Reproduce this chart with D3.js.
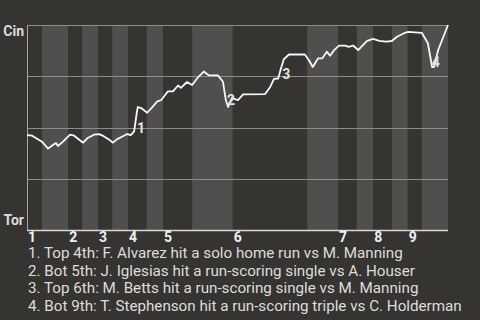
<!DOCTYPE html>
<html lang="en">
<head>
    <meta charset="UTF-8">
    <title>Win Probability</title>
    <style>
    body { margin: 0; background-color: #363431; }
    svg { display: block; }
    text { font-family: Roboto, "Noto Sans", sans-serif; }
    </style>
    <script src="https://cdn.jsdelivr.net/npm/d3@7"></script>
</head>
<body>
    <svg width="480" height="320"></svg>
    <script>

        // half-inning boundaries, in plays (top 1st ... bottom 9th, then end)
        var halfInnings = [0, 3.2, 8.8, 11.8, 15.2, 18.2, 21.6, 25.6, 29.1, 35.3, 44.0, 59.9, 66.5, 70.5, 74.0, 78.0, 81.4, 84.4, 90];
        var innings = ["1", "2", "3", "4", "5", "6", "7", "8", "9"];

        // play index and Cincinnati win probability
        var plays = [0, 1.1, 3.2, 4.5, 5.6, 6.2, 6.6, 7.7, 9.2, 10.1, 10.7, 12.0, 13.0, 14.3, 15.4, 16.3, 17.5, 18.4, 19.2, 20.3,
            21.4, 22.2, 22.9, 23.1, 23.5, 23.7, 24.4, 25.7, 26.7, 27.8, 28.7, 30.1, 31.2, 32.3, 32.9, 34.2, 35.3, 36.6, 37.8, 38.9,
            40.8, 41.9, 42.5, 43.0, 43.8, 45.1, 46.2, 50.9, 52.0, 52.8, 53.7, 54.3, 54.9, 56.0, 59.4, 60.3, 61.1, 62.2, 63.1, 64.1,
            64.8, 65.6, 66.7, 68.0, 68.8, 69.7, 70.8, 72.7, 74.0, 75.3, 76.8, 78.0, 79.1, 80.6, 81.5, 84.4, 85.7, 86.6, 87.0, 87.9, 90];
        var winProb = [0.463, 0.46, 0.431, 0.397, 0.416, 0.424, 0.41, 0.431, 0.465, 0.46, 0.449, 0.426, 0.449, 0.465, 0.468, 0.459, 0.442, 0.426, 0.442, 0.455,
            0.468, 0.463, 0.481, 0.512, 0.577, 0.6, 0.595, 0.572, 0.597, 0.626, 0.634, 0.676, 0.676, 0.705, 0.693, 0.722, 0.707, 0.746, 0.773, 0.754,
            0.754, 0.723, 0.634, 0.6, 0.644, 0.634, 0.662, 0.663, 0.698, 0.737, 0.739, 0.789, 0.833, 0.856, 0.856, 0.827, 0.795, 0.837, 0.837, 0.87,
            0.85, 0.876, 0.899, 0.899, 0.893, 0.9, 0.878, 0.923, 0.932, 0.923, 0.919, 0.922, 0.943, 0.96, 0.966, 0.962, 0.911, 0.795, 0.795, 0.878, 1];

        // key plays: marker position and description
        var eventPlay = [24.4, 43.6, 55.4, 87.4];
        var eventProb = [0.5, 0.634, 0.759, 0.82];
        var eventText = [
            "Top 4th: F. Alvarez hit a solo home run vs M. Manning",
            "Bot 5th: J. Iglesias hit a run-scoring single vs A. Houser",
            "Top 6th: M. Betts hit a run-scoring single vs M. Manning",
            "Bot 9th: T. Stephenson hit a run-scoring triple vs C. Holderman"
        ];
        var teams = ["Cin", "Tor"];

        var svg = d3.select("svg"),
            margin = {top: 25, right: 32, bottom: 90, left: 27},
            width = 480 - margin.left - margin.right,
            height = 320 - margin.top - margin.bottom;

        var g = svg.append("g").attr("transform", "translate(" + margin.left + "," + margin.top + ")");

        var x = d3.scaleLinear().domain([0, 90]).range([0, width]);
        var y = d3.scaleLinear().domain([0, 1]).range([height, 0]);

        // inning bands
        g.selectAll("rect.band")
            .data(halfInnings.slice(0, -1))
            .enter().append("rect")
            .attr("class", "band")
            .attr("x", function(d) { return x(d); })
            .attr("width", function(d, i) { return x(halfInnings[i + 1]) - x(d); })
            .attr("y", 0)
            .attr("height", height)
            .attr("fill", function(d, i) { return i % 2 ? "#504f4d" : "#363431"; });

        // grid
        g.selectAll("line.grid")
            .data([0.25, 0.5, 0.75, 1])
            .enter().append("line")
            .attr("class", "grid")
            .attr("x1", 0).attr("x2", width)
            .attr("y1", function(d) { return Math.round(y(d)) + 0.5; })
            .attr("y2", function(d) { return Math.round(y(d)) + 0.5; })
            .attr("stroke", "#8e8c89")
            .attr("stroke-width", 1);

        g.append("line")
            .attr("x1", 0.5).attr("x2", 0.5)
            .attr("y1", 0).attr("y2", height)
            .attr("stroke", "#a5a4a2");

        g.append("line")
            .attr("x1", 0).attr("x2", width)
            .attr("y1", height + 0.5).attr("y2", height + 0.5)
            .attr("stroke", "#d8d8d8")
            .attr("stroke-width", 1.5);

        // win probability line
        var line = d3.line()
            .x(function(d) { return x(d); })
            .y(function(d, i) { return y(winProb[i]); });

        g.append("path")
            .datum(plays)
            .attr("d", line)
            .attr("fill", "none")
            .attr("stroke", "#f8f8f8")
            .attr("stroke-width", 1.8)
            .attr("stroke-linejoin", "round");

        // event markers
        g.selectAll("text.marker")
            .data(eventPlay)
            .enter().append("text")
            .attr("class", "marker")
            .attr("x", function(d) { return x(d); })
            .attr("y", function(d, i) { return y(eventProb[i]); })
            .attr("dy", "0.36em")
            .attr("text-anchor", "middle")
            .attr("font-size", 14)
            .attr("font-weight", "bold")
            .attr("fill", "#e2e2e2")
            .text(function(d, i) { return i + 1; });

        // team labels
        svg.append("text")
            .attr("x", margin.left - 3)
            .attr("y", margin.top + y(1) + 11)
            .attr("text-anchor", "end")
            .attr("font-size", 14)
            .attr("font-weight", "bold")
            .attr("fill", "#dcdcdc")
            .text(teams[0]);

        svg.append("text")
            .attr("x", margin.left - 3)
            .attr("y", margin.top + y(0) - 5)
            .attr("text-anchor", "end")
            .attr("font-size", 14)
            .attr("font-weight", "bold")
            .attr("fill", "#dcdcdc")
            .text(teams[1]);

        // inning labels at the start of each top half
        g.selectAll("text.inning")
            .data(innings)
            .enter().append("text")
            .attr("class", "inning")
            .attr("x", function(d, i) { return x(halfInnings[i * 2]) + 1; })
            .attr("y", height + 12)
            .attr("font-size", 14)
            .attr("font-weight", "bold")
            .attr("fill", "#f0f0f0")
            .text(function(d) { return d; });

        // descriptions
        svg.selectAll("text.desc")
            .data(eventText)
            .enter().append("text")
            .attr("class", "desc")
            .attr("x", 28)
            .attr("y", function(d, i) { return 258 + i * 17.6; })
            .attr("font-size", 15.2)
            .attr("fill", "#dddddd")
            .text(function(d, i) { return (i + 1) + ". " + d; });
    </script>
</body>
</html>
